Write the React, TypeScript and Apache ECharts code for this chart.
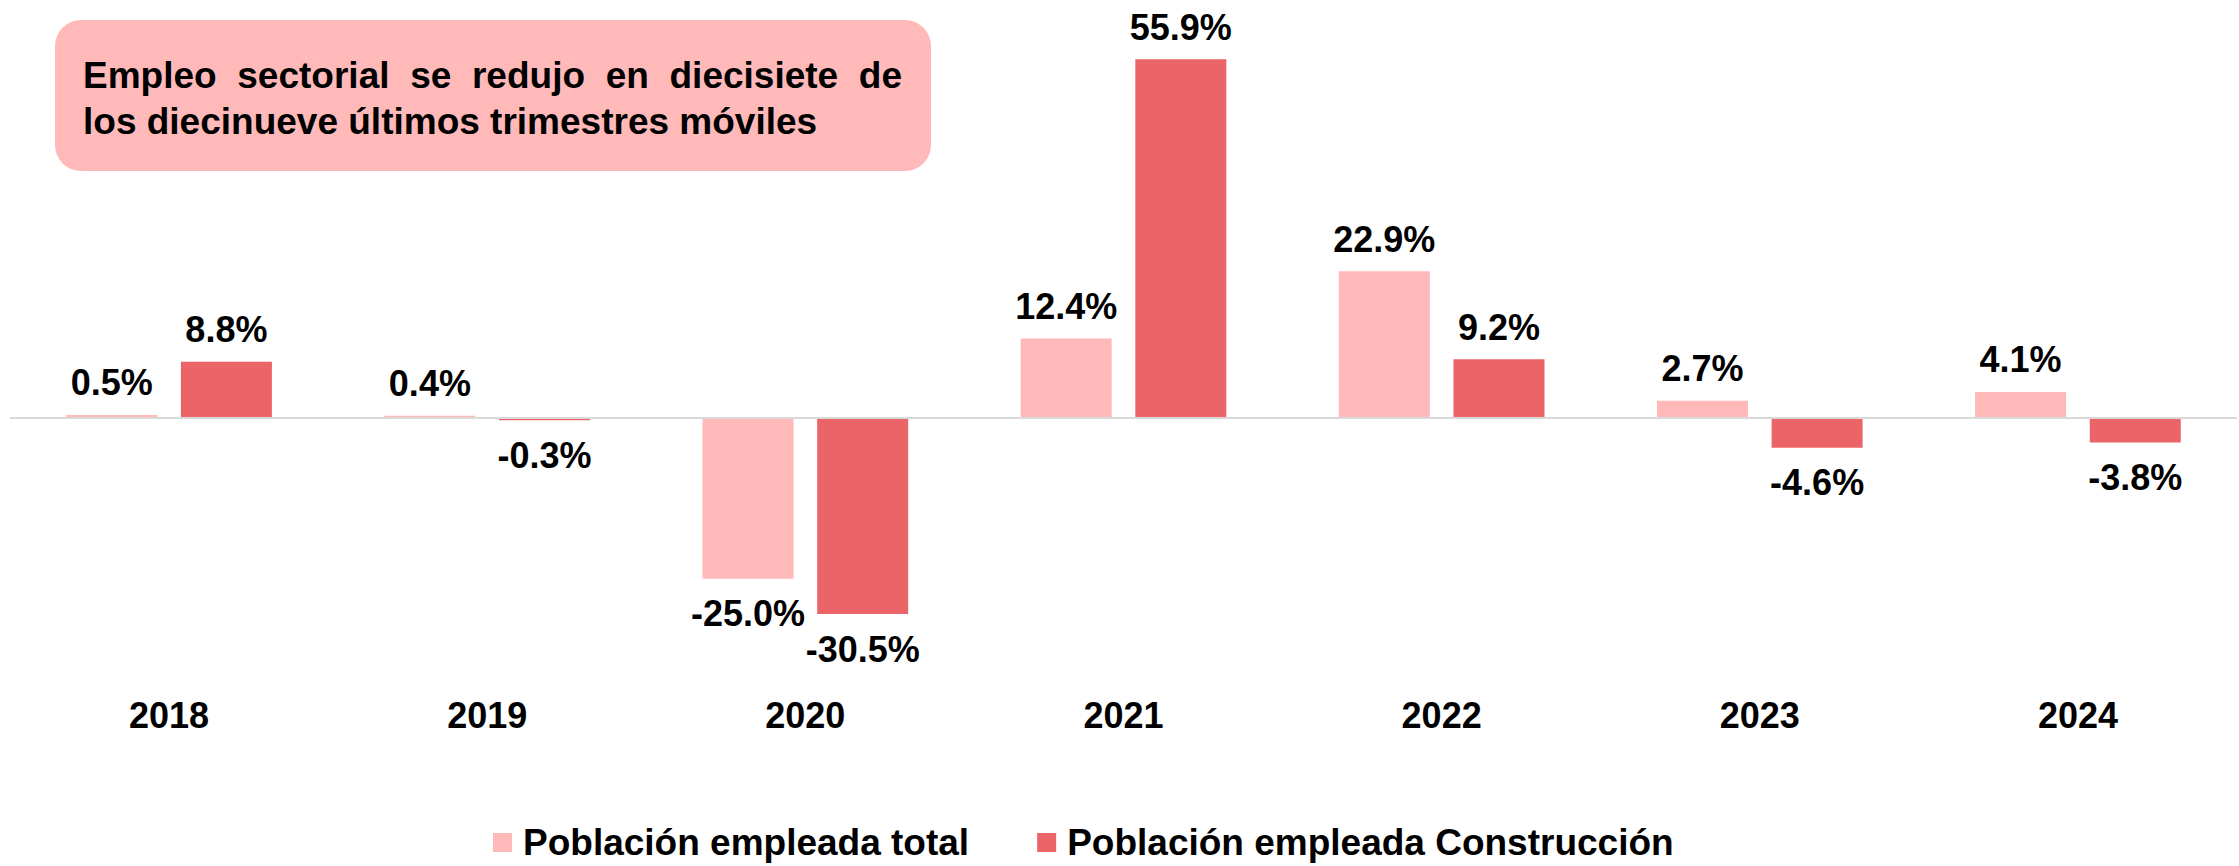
import React, { useEffect, useRef } from "react";
import * as echarts from "echarts";

const categories = ["2018", "2019", "2020", "2021", "2022", "2023", "2024"];
const totalValues = [0.5, 0.4, -25.0, 12.4, 22.9, 2.7, 4.1];
const construccionValues = [8.8, -0.3, -30.5, 55.9, 9.2, -4.6, -3.8];
const seriesNames = ["Población empleada total", "Población empleada Construcción"];
const titleLine1 = "Empleo sectorial se redujo en diecisiete de";
const titleLine2 = "los diecinueve últimos trimestres móviles";

const FONT = "'Liberation Sans', Arial, Helvetica, sans-serif";
const LIGHT = "#FFB9B9";
const DARK = "#EB6467";

function measure(text: string, size: number): number {
  const c = document.createElement("canvas").getContext("2d");
  if (!c) return text.length * size * 0.55;
  c.font = `bold ${size}px "Liberation Sans", Arial, sans-serif`;
  return c.measureText(text).width;
}

function justifiedWords(line: string, x0: number, x1: number, y: number, size: number) {
  const words = line.split(" ");
  const widths = words.map((w) => measure(w, size));
  const total = widths.reduce((a, b) => a + b, 0);
  const gap = (x1 - x0 - total) / (words.length - 1);
  let x = x0;
  return words.map((w, i) => {
    const el = {
      type: "text",
      x,
      y,
      style: {
        text: w,
        fill: "#000",
        font: `bold ${size}px ${FONT}`,
        textAlign: "left",
        textVerticalAlign: "middle",
      },
    };
    x += widths[i] + gap;
    return el;
  });
}

function makeData(values: number[]) {
  return values.map((v) => ({
    value: v,
    label: {
      position: v >= 0 ? "top" : "bottom",
      distance: v >= 0 ? 14 : 17,
    },
  }));
}

export default function App() {
  const ref = useRef<HTMLDivElement>(null);
  useEffect(() => {
    if (!ref.current) return;
    const chart = echarts.init(ref.current, undefined, { renderer: "svg" });
    const labelStyle = {
      show: true,
      formatter: (p: any) => `${Number(p.value).toFixed(1)}%`,
      color: "#000",
      fontSize: 36,
      fontWeight: "bold",
      fontFamily: FONT,
    };
    const titleSize = 37;
    chart.setOption({
      animation: false,
      backgroundColor: "#fff",
      grid: { left: 10, right: 2, top: 33, bottom: 191 },
      legend: {
        left: 493,
        top: 824,
        padding: 0,
        icon: "rect",
        itemWidth: 19,
        itemHeight: 19,
        itemGap: 68,
        textStyle: {
          fontSize: 37,
          fontWeight: "bold",
          color: "#000",
          fontFamily: FONT,
          padding: [0, 0, 0, 6],
        },
        data: seriesNames,
      },
      xAxis: {
        type: "category",
        data: categories,
        axisLine: { show: false, onZero: false },
        axisTick: { show: false },
        axisLabel: { margin: 22, fontSize: 36, fontWeight: "bold", color: "#000", fontFamily: FONT },
      },
      yAxis: {
        type: "value",
        min: -40,
        max: 60,
        show: false,
        splitLine: { show: false },
      },
      series: [
        {
          name: seriesNames[0],
          type: "bar",
          data: makeData(totalValues),
          barWidth: 91,
          barGap: "26%",
          itemStyle: { color: LIGHT },
          label: labelStyle,
          markLine: {
            silent: true,
            symbol: ["none", "none"],
            label: { show: false },
            lineStyle: { color: "#D9D9D9", width: 2, type: "solid" },
            data: [{ yAxis: 0 }],
          },
        },
        {
          name: seriesNames[1],
          type: "bar",
          data: makeData(construccionValues),
          barWidth: 91,
          barGap: "26%",
          itemStyle: { color: DARK },
          label: labelStyle,
        },
      ],
      graphic: [
        {
          type: "rect",
          shape: { x: 55, y: 20, width: 876, height: 151, r: 26 },
          style: { fill: LIGHT },
          z: 10,
        },
        ...justifiedWords(titleLine1, 83, 902, 75, titleSize).map((e) => ({ ...e, z: 11 })),
        {
          type: "text",
          x: 83,
          y: 121,
          z: 11,
          style: {
            text: titleLine2,
            fill: "#000",
            font: `bold ${titleSize}px ${FONT}`,
            textAlign: "left",
            textVerticalAlign: "middle",
          },
        },
      ],
    });
    return () => chart.dispose();
  }, []);
  return (
    <div
      ref={ref}
      style={{ position: "absolute", left: 0, top: 0, width: 2239, height: 866 }}
    />
  );
}
